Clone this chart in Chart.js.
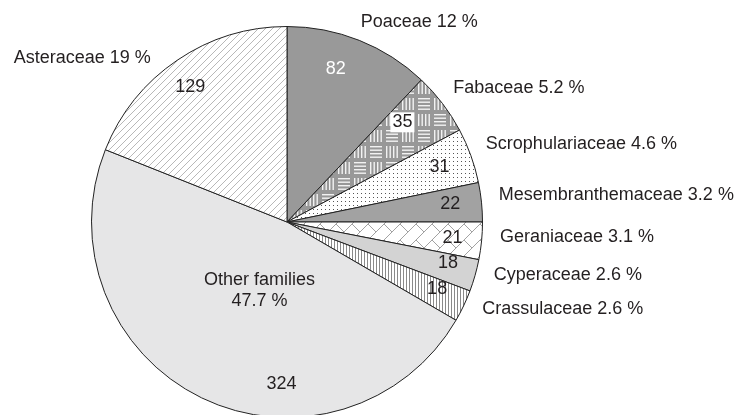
<!DOCTYPE html>
<html>
<head>
<meta charset="utf-8">
<script src="https://cdn.jsdelivr.net/npm/chart.js@4.4.0/dist/chart.umd.min.js"></script>
<style>
html, body { margin: 0; padding: 0; background: #fff; overflow: hidden; }
canvas { display: block; }
</style>
</head>
<body>
<canvas id="families" width="743" height="420"></canvas>
<script>
// plant families, clockwise from 12 o'clock
var families = ["Poaceae", "Fabaceae", "Scrophulariaceae", "Mesembranthemaceae",
    "Geraniaceae", "Cyperaceae", "Crassulaceae", "Other families", "Asteraceae"];
var counts = [82, 35, 31, 22, 21, 18, 18, 324, 129];
var percents = ["12", "5.2", "4.6", "3.2", "3.1", "2.6", "2.6", "47.7", "19"];

// label tweaks (degrees along the arc, fraction of radius)
var valueShift = [-4, -3.5, 0, -0.5, 0, -1.5, -1.5, -24, -1.5];
var valueRadius = [0.82, 0.78, 0.83, 0.84, 0.85, 0.85, 0.84, 0.83, 0.85];
var outerShift = [-1.5, -1.5, -1.5, -1.5, -1.5, -1.5, -1.5, 0, -5.5];

var FONT = "18px 'Liberation Sans', Arial, sans-serif";
var INK = "#231f20";

function makePattern(w, h, draw) {
    var c = document.createElement("canvas");
    c.width = w;
    c.height = h;
    var g = c.getContext("2d");
    draw(g, w, h);
    return g.createPattern(c, "repeat");
}

var ctx = document.getElementById("families").getContext("2d");

var hatch = makePattern(7, 7, function (g, w, h) {
    g.fillStyle = "#fff";
    g.fillRect(0, 0, w, h);
    g.strokeStyle = "#b8b8b8";
    g.lineWidth = 1;
    g.beginPath();
    g.moveTo(-1, h + 1); g.lineTo(w + 1, -1);
    g.moveTo(-1 - w, h + 1); g.lineTo(1, -1);
    g.moveTo(w - 1, h + 1); g.lineTo(2 * w + 1, -1);
    g.stroke();
});

var weave = makePattern(32, 32, function (g, w, h) {
    g.fillStyle = "#989898";
    g.fillRect(0, 0, w, h);
    g.fillStyle = "#f2f2f2";
    var cells = [[0, 0, "h"], [16, 0, "v"], [0, 16, "v"], [16, 16, "h"]];
    cells.forEach(function (c) {
        for (var k = 0; k < 4; k++) {
            if (c[2] === "h") g.fillRect(c[0] + 2, c[1] + 2 + k * 3.5, 12, 1.4);
            else g.fillRect(c[0] + 2 + k * 3.5, c[1] + 2, 1.4, 12);
        }
    });
});

var dots = makePattern(4, 4, function (g, w, h) {
    g.fillStyle = "#fff";
    g.fillRect(0, 0, w, h);
    g.fillStyle = "#555";
    g.fillRect(1, 1, 1, 1);
});

var zigzag = makePattern(16, 16, function (g, w, h) {
    g.fillStyle = "#fff";
    g.fillRect(0, 0, w, h);
    g.strokeStyle = "#8a8a8a";
    g.lineWidth = 0.8;
    g.beginPath();
    g.moveTo(-1, 17); g.lineTo(17, -1);
    g.moveTo(0, 0); g.lineTo(8, 8);
    g.moveTo(8, 16); g.lineTo(16, 24);
    g.moveTo(8, -16); g.lineTo(16, -8);
    g.stroke();
});

var stripes = makePattern(3, 3, function (g, w, h) {
    g.fillStyle = "#fff";
    g.fillRect(0, 0, w, h);
    g.fillStyle = "#8a8a8a";
    g.fillRect(1, 0, 1, h);
});

var fills = ["#999999", weave, dots, "#a2a2a2", zigzag, "#d3d3d3", stripes, "#e6e6e7", hatch];

var labelPlugin = {
    id: "pieLabels",
    afterDatasetsDraw: function (chart) {
        var c = chart.ctx;
        var meta = chart.getDatasetMeta(0);
        c.save();
        c.font = FONT;
        c.textBaseline = "middle";
        meta.data.forEach(function (arc, i) {
            var p = arc.getProps(["x", "y", "startAngle", "endAngle", "outerRadius"], true);
            var mid = (p.startAngle + p.endAngle) / 2;
            var R = p.outerRadius;

            // value inside the slice
            var a = mid + valueShift[i] * Math.PI / 180;
            var vx = p.x + Math.cos(a) * R * valueRadius[i];
            var vy = p.y + Math.sin(a) * R * valueRadius[i];
            var txt = String(counts[i]);
            c.textAlign = "center";
            if (i === 1) {
                var tw = c.measureText(txt).width;
                c.fillStyle = "#fff";
                c.fillRect(vx - tw / 2 - 2, vy - 10, tw + 4, 20);
            }
            c.fillStyle = i === 0 ? "#fff" : INK;
            c.fillText(txt, vx, vy);

            if (i === 7) {
                var ox = p.x + Math.cos(mid) * R * 0.38;
                var oy = p.y + Math.sin(mid) * R * 0.38;
                c.fillStyle = INK;
                c.fillText(families[i], ox + 5, oy - 9);
                c.fillText(percents[i] + " %", ox + 5, oy + 12);
                return;
            }

            // family name outside
            var b = mid + outerShift[i] * Math.PI / 180;
            var lx = p.x + Math.cos(b) * (R + 18);
            var ly = p.y + Math.sin(b) * (R + 18);
            c.textAlign = Math.cos(b) >= 0 ? "left" : "right";
            c.fillStyle = INK;
            c.fillText(families[i] + " " + percents[i] + " %", lx, ly);
        });
        c.restore();
    }
};

new Chart(ctx, {
    type: "pie",
    data: {
        labels: families,
        datasets: [{
            data: counts,
            backgroundColor: fills,
            borderColor: "#222",
            borderWidth: 1
        }]
    },
    options: {
        responsive: false,
        animation: false,
        layout: { padding: { left: 91, top: 26, right: 260, bottom: 2 } },
        plugins: {
            legend: { display: false },
            tooltip: { enabled: false }
        }
    },
    plugins: [labelPlugin]
});
</script>
</body>
</html>
